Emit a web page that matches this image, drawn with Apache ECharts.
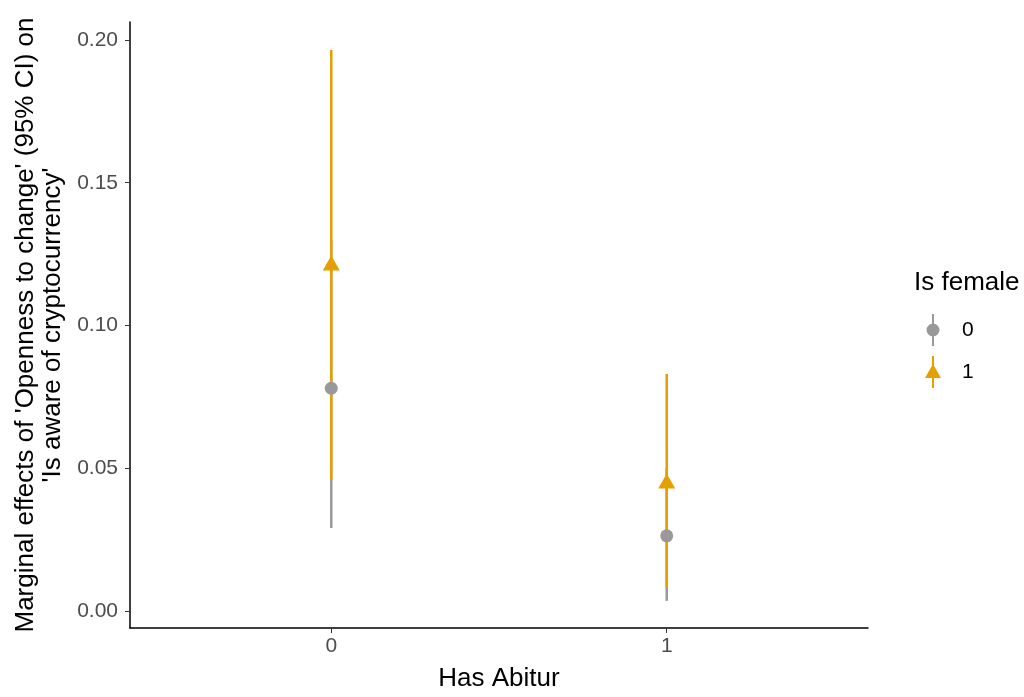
<!DOCTYPE html>
<html>
<head>
<meta charset="utf-8">
<script src="https://cdn.jsdelivr.net/npm/echarts@6/dist/echarts.min.js"></script>
<style>
  html, body { margin: 0; padding: 0; background: #fff; }
  #chart { width: 1024px; height: 697px; }
</style>
</head>
<body>
<div id="chart"></div>
<script>
// x positions for 'Has Abitur' = 0 / 1
var abitur = [0, 1];
// Is female = 0 (grey dots)
var maleEst = [0.078, 0.0263];
var maleLow = [0.029, 0.0035];
var maleHigh = [0.13, 0.05];
// Is female = 1 (orange triangles)
var femaleEst = [0.1219, 0.0455];
var femaleLow = [0.0459, 0.008];
var femaleHigh = [0.1965, 0.083];
var yTicks = [0, 0.05, 0.10, 0.15, 0.20];

var GREY = '#999999';
var ORANGE = '#E69F00';

function barData(lo, hi) {
    return abitur.map(function (x, i) { return [x, lo[i], hi[i]]; });
}
function pointData(est) {
    return abitur.map(function (x, i) { return [x, est[i]]; });
}
function errorBar(params, api) {
    var top = api.coord([api.value(0), api.value(2)]);
    var bot = api.coord([api.value(0), api.value(1)]);
    return {
        type: 'line',
        shape: { x1: top[0], y1: top[1], x2: bot[0], y2: bot[1] },
        style: { stroke: api.visual('color'), lineWidth: 2.5 }
    };
}

var chart = echarts.init(document.getElementById('chart'));
var option = {
    animation: false,
    textStyle: { fontFamily: 'Liberation Sans, Arial, sans-serif' },
    title: {
        text: 'Is female',
        left: 909,
        top: 265,
        textStyle: { fontSize: 26, fontWeight: 'normal', color: '#000' }
    },
    legend: {
        orient: 'vertical',
        left: 920,
        top: 309,
        itemWidth: 20,
        itemHeight: 32,
        itemGap: 10,
        textStyle: { fontSize: 21, color: '#000', padding: [0, 0, 0, 14] },
        data: [
            { name: '0', icon: 'path://M9,0 L11,0 L11,32 L9,32 Z M10,9.5 A6.5,6.5 0 1,1 10,22.5 A6.5,6.5 0 1,1 10,9.5 Z' },
            { name: '1', icon: 'path://M9,0 L11,0 L11,32 L9,32 Z M10,8 L18,22 L2,22 Z' }
        ]
    },
    grid: { left: 130, right: 156, top: 22, bottom: 69 },
    xAxis: {
        type: 'value',
        min: -0.6,
        max: 1.6,
        name: 'Has Abitur',
        nameLocation: 'middle',
        nameGap: 38,
        nameTextStyle: { fontSize: 26, color: '#000' },
        splitLine: { show: false },
        axisLine: { onZero: false, lineStyle: { color: '#000', width: 1.5 } },
        axisTick: { length: 5, lineStyle: { color: '#333' }, customValues: abitur },
        axisLabel: { fontSize: 21, color: '#4d4d4d', margin: 8, customValues: abitur }
    },
    yAxis: {
        type: 'value',
        min: -0.006,
        max: 0.2063,
        name: "Marginal effects of 'Openness to change' (95% CI) on\n'Is aware of cryptocurrency'",
        nameLocation: 'middle',
        nameRotate: 90,
        nameGap: 61,
        nameTextStyle: { fontSize: 26, color: '#000', lineHeight: 27 },
        splitLine: { show: false },
        axisLine: { show: true, onZero: false, lineStyle: { color: '#000', width: 1.5 } },
        axisTick: { show: true, length: 5, lineStyle: { color: '#333' }, customValues: yTicks },
        axisLabel: {
            fontSize: 21, color: '#4d4d4d', margin: 12, customValues: yTicks,
            formatter: function (v) { return v.toFixed(2); }
        }
    },
    series: [
        {
            name: '0', type: 'custom', renderItem: errorBar,
            itemStyle: { color: GREY }, encode: { x: 0, y: [1, 2] },
            data: barData(maleLow, maleHigh), z: 2
        },
        {
            name: '1', type: 'custom', renderItem: errorBar,
            itemStyle: { color: ORANGE }, encode: { x: 0, y: [1, 2] },
            data: barData(femaleLow, femaleHigh), z: 3
        },
        {
            name: '0', type: 'scatter', symbol: 'circle', symbolSize: 13,
            itemStyle: { color: GREY, opacity: 1 },
            data: pointData(maleEst), z: 4
        },
        {
            name: '1', type: 'scatter', symbol: 'triangle', symbolSize: [17, 15],
            itemStyle: { color: ORANGE, opacity: 1 },
            data: pointData(femaleEst), z: 5
        }
    ]
};
chart.setOption(option);
</script>
</body>
</html>
